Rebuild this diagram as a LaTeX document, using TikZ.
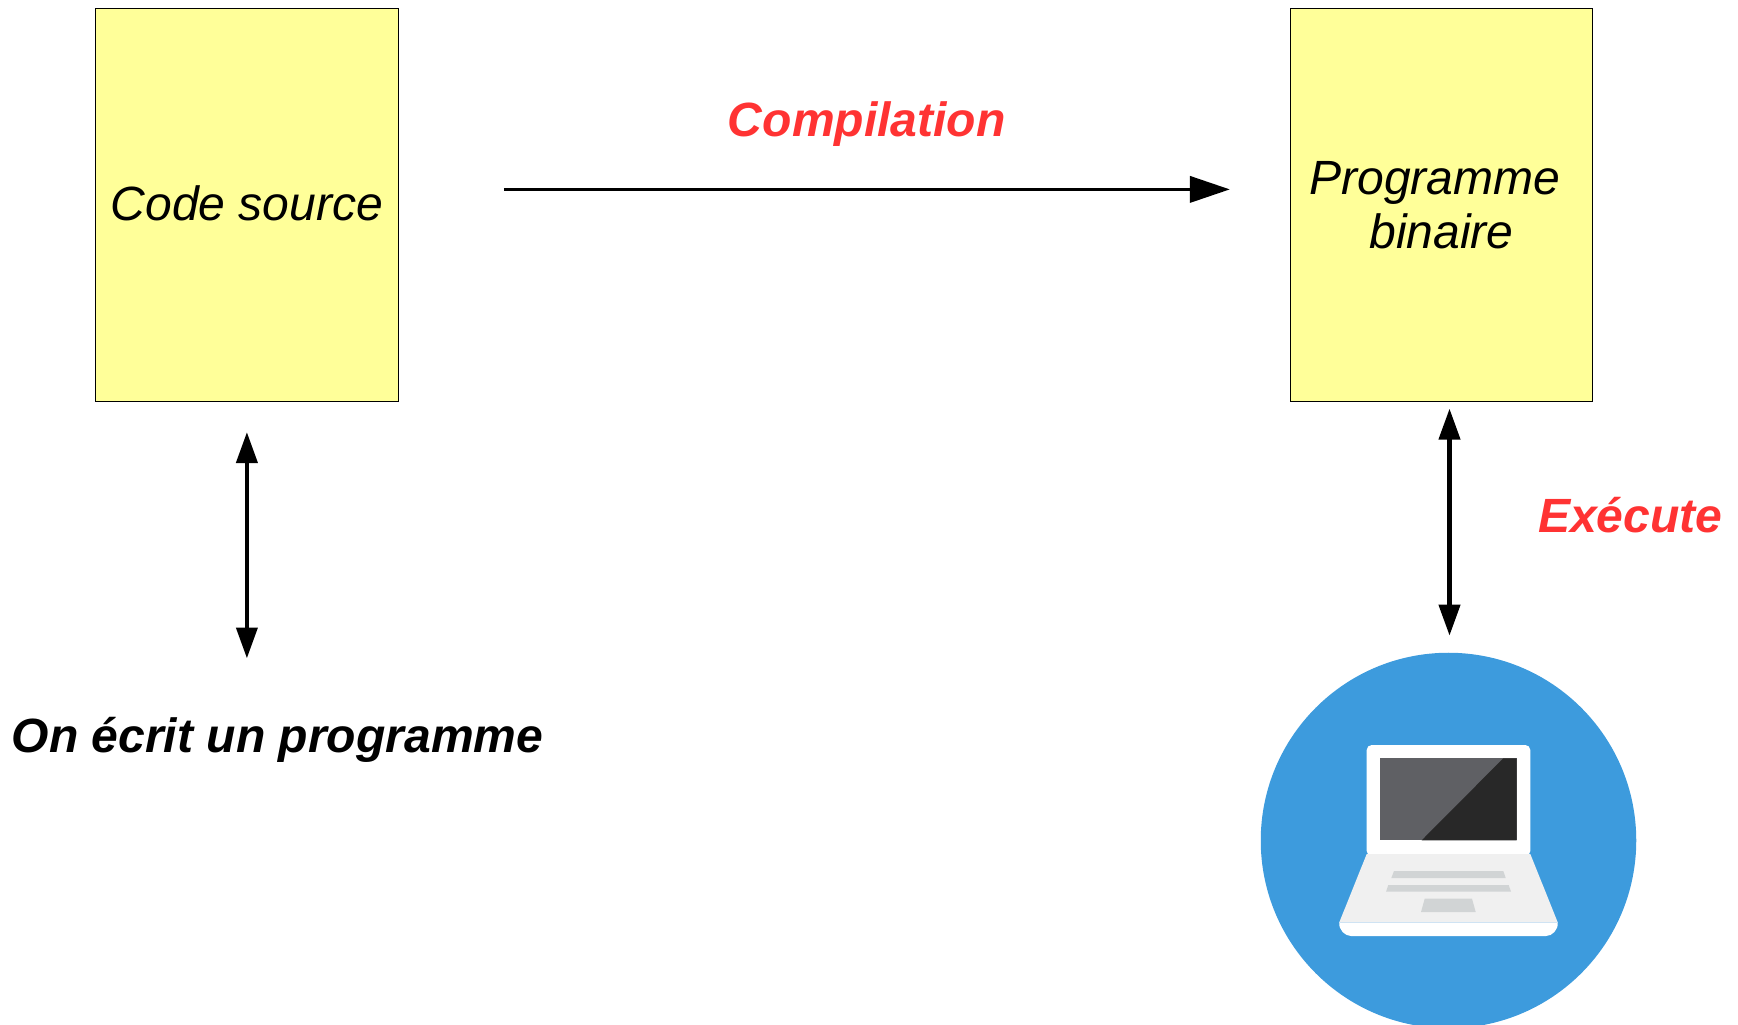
\documentclass[tikz,border=0pt]{standalone}
\usepackage{fontspec}
\setmainfont{Liberation Sans}
\usepackage{tikz}
\usetikzlibrary{arrows.meta,calc}

\definecolor{boxyellow}{HTML}{FFFF99}
\definecolor{labelred}{HTML}{FF3333}
\definecolor{diskblue}{HTML}{3D9BDD}
\definecolor{screenlight}{HTML}{5F6064}
\definecolor{screendark}{HTML}{282828}
\definecolor{basegray}{HTML}{F0F0F0}
\definecolor{keygray}{HTML}{D1D4D5}
\definecolor{edgeblue}{HTML}{CFE3F3}

\begin{document}
\begin{tikzpicture}[x=.2mm,y=-.2mm,
  filebox/.style={rectangle,draw=black,line width=.2mm,fill=boxyellow,minimum width=60.5mm,minimum height=78.6mm,inner sep=0,outer sep=0,align=center,font=\fontsize{27.35}{30.6}\selectfont\itshape},
  boldlabel/.style={anchor=base,inner sep=0,outer sep=0,font=\fontsize{27.35}{30.6}\selectfont\bfseries\itshape},
  longarrow/.style={line width=.5mm,-{Triangle[length=8mm,width=5.3mm]}},
  twoarrow/.style={line width=.95mm,{Triangle[length=6.2mm,width=4.15mm]}-{Triangle[length=6.2mm,width=4.15mm]}}]

\path[use as bounding box,clip] (0,0) rectangle (1738,1025);

% Files
\node (source) at (246.9,205) [filebox,text depth=.7mm] {Code source};
\node (binary) at (1441.6,205) [filebox] {Programme\kern.278em\\binaire};

% Compilation
\coordinate (compa) at ($(source.east)+(105.7,-15.6)$);
\coordinate (compb) at ($(binary.west)+(-60.6,-15.6)$);
\draw[longarrow] (compa) -- (compb);
\node (compile) at ($(compa)!.5!(compb)+(0,-52.4)$) [boldlabel,text=labelred] {Compilation};

% Writing
\coordinate (edita) at ($(source.south)+(0,30.5)$);
\coordinate (editb) at ($(source.south)+(0,257)$);
\draw[twoarrow] (edita) -- (editb);
\node (write) at (277.5,752) [boldlabel] {On écrit un programme};

% Computer
\node (computer) at (1448.5,840.5) [circle,fill=diskblue,minimum size=75.1mm,inner sep=0,outer sep=0] {};
\coordinate (runa) at ($(binary.south)+(7.9,7)$);
\coordinate (runb) at ($(computer.north)+(1,-17)$);
\draw[twoarrow] (runa) -- (runb);
\node (run) at (1630.3,533) [boldlabel,text=labelred] {Exécute};

% Laptop lid
\fill[white,rounded corners=1mm] (1366.7,856) -- (1366.7,745) -- (1530.3,745) -- (1530.3,856) -- cycle;
\fill[screenlight] (1380,758.3) rectangle (1516.7,840.3);
\fill[screendark] (1503.3,758.3) -- (1516.7,758.3) -- (1516.7,840.3) -- (1421.7,840.3) -- cycle;

% Laptop base
\fill[basegray] (1366.7,854) -- (1530.3,854) -- (1557.7,922.3) -- (1339.3,922.3) -- cycle;
\fill[white] (1339.3,922.3) -- (1557.7,922.3) .. controls (1558.5,930) and (1552,936) .. (1546,936) -- (1351,936) .. controls (1345,936) and (1338.5,930) .. (1339.3,922.3) -- cycle;
\draw[edgeblue,line width=.1mm] (1339.3,922.3) -- (1557.7,922.3);

% Keys
\fill[keygray] (1394,871) -- (1503.3,871) -- (1505.7,878) -- (1391.3,878) -- cycle;
\fill[keygray] (1388.3,885) -- (1508.7,885) -- (1511,891.7) -- (1386,891.7) -- cycle;
\fill[keygray] (1424.7,898.7) -- (1472,898.7) -- (1475.7,912) -- (1421,912) -- cycle;

\end{tikzpicture}
\end{document}
